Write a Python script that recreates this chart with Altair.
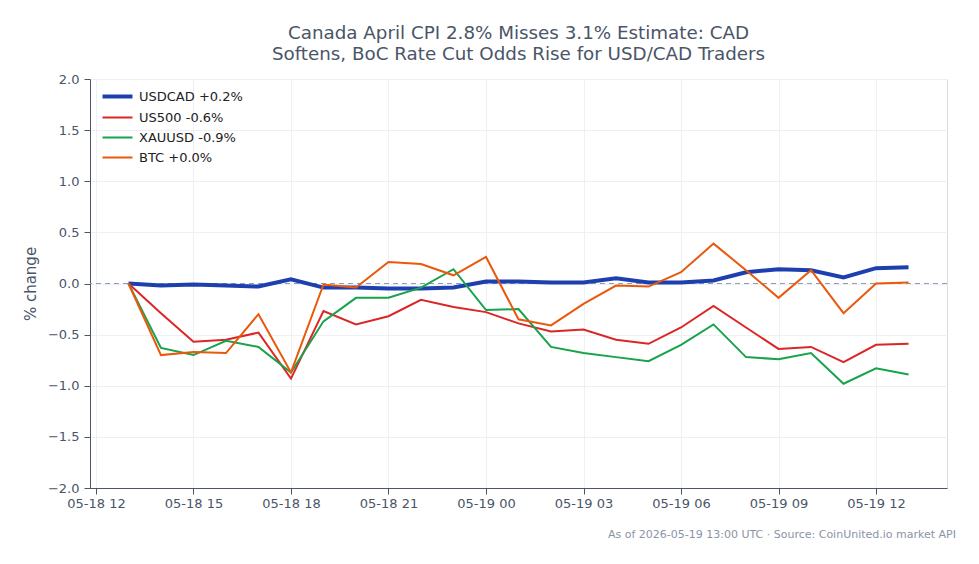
import altair as alt
import pandas as pd

times = [
    "2026-05-18T13:00:00Z", "2026-05-18T14:00:00Z", "2026-05-18T15:00:00Z",
    "2026-05-18T16:00:00Z", "2026-05-18T17:00:00Z", "2026-05-18T18:00:00Z",
    "2026-05-18T19:00:00Z", "2026-05-18T20:00:00Z", "2026-05-18T21:00:00Z",
    "2026-05-18T22:00:00Z", "2026-05-18T23:00:00Z", "2026-05-19T00:00:00Z",
    "2026-05-19T01:00:00Z", "2026-05-19T02:00:00Z", "2026-05-19T03:00:00Z",
    "2026-05-19T04:00:00Z", "2026-05-19T05:00:00Z", "2026-05-19T06:00:00Z",
    "2026-05-19T07:00:00Z", "2026-05-19T08:00:00Z", "2026-05-19T09:00:00Z",
    "2026-05-19T10:00:00Z", "2026-05-19T11:00:00Z", "2026-05-19T12:00:00Z",
    "2026-05-19T13:00:00Z",
]
usdcad = [0.00, -0.02, -0.01, -0.02, -0.03, 0.04, -0.04, -0.04, -0.05, -0.05, -0.04, 0.02,
          0.02, 0.01, 0.01, 0.05, 0.01, 0.01, 0.03, 0.11, 0.14, 0.13, 0.06, 0.15, 0.16]
us500 = [0.00, -0.29, -0.57, -0.55, -0.48, -0.93, -0.27, -0.40, -0.32, -0.16, -0.23, -0.28,
         -0.39, -0.47, -0.45, -0.55, -0.59, -0.43, -0.22, -0.43, -0.64, -0.62, -0.77, -0.60, -0.59]
xauusd = [0.00, -0.63, -0.70, -0.56, -0.62, -0.87, -0.37, -0.14, -0.14, -0.04, 0.14, -0.26,
          -0.25, -0.62, -0.68, -0.72, -0.76, -0.60, -0.40, -0.72, -0.74, -0.68, -0.98, -0.83, -0.89]
btc = [0.00, -0.70, -0.67, -0.68, -0.30, -0.87, -0.01, -0.04, 0.21, 0.19, 0.08, 0.26,
       -0.35, -0.41, -0.20, -0.02, -0.03, 0.11, 0.39, 0.13, -0.14, 0.13, -0.29, 0.00, 0.01]

series_names = ["USDCAD +0.2%", "US500 -0.6%", "XAUUSD -0.9%", "BTC +0.0%"]
series_values = [usdcad, us500, xauusd, btc]
colors = ["#1e40af", "#dc2626", "#16a34a", "#ea580c"]
widths = [4, 2, 2, 2]

y_ticks = [-2.0, -1.5, -1.0, -0.5, 0.0, 0.5, 1.0, 1.5, 2.0]
x_ticks = ["2026-05-18T12:00:00Z", "2026-05-18T15:00:00Z", "2026-05-18T18:00:00Z",
           "2026-05-18T21:00:00Z", "2026-05-19T00:00:00Z", "2026-05-19T03:00:00Z",
           "2026-05-19T06:00:00Z", "2026-05-19T09:00:00Z", "2026-05-19T12:00:00Z"]
x_domain = ["2026-05-18T11:49:00Z", "2026-05-19T14:11:00Z"]
title_lines = ["Canada April CPI 2.8% Misses 3.1% Estimate: CAD",
               "Softens, BoC Rate Cut Odds Rise for USD/CAD Traders"]
footer = "As of 2026-05-19 13:00 UTC \u00b7 Source: CoinUnited.io market API"


def ms(s):
    return int(pd.Timestamp(s).value // 10**6)


rows = []
for name, vals in zip(series_names, series_values):
    for t, v in zip(times, vals):
        rows.append({"time": t, "series": name, "value": v})
df = pd.DataFrame(rows)

FONT = "DejaVu Sans"
AX = "#4a5568"

x_enc = alt.X(
    "time:T",
    scale=alt.Scale(type="utc", domain=[ms(d) for d in x_domain]),
    axis=alt.Axis(values=[ms(t) for t in x_ticks],
                  labelExpr="utcFormat(datum.value, '%m-%d %H')",
                  title=None, labelFontSize=13, labelColor=AX, labelFont=FONT,
                  tickSize=6, tickColor=AX, domainColor=AX, gridColor="#eef0f4",
                  labelPadding=3, labelFlush=False, labelOverlap=False),
)
y_enc = alt.Y(
    "value:Q",
    scale=alt.Scale(domain=[-2, 2], nice=False, zero=False),
    axis=alt.Axis(values=y_ticks, format=".1f", title="% change", titleFontSize=15,
                  titleColor=AX, titleFont=FONT, titleFontWeight="normal", titlePadding=9,
                  labelFontSize=13, labelColor=AX, labelFont=FONT, tickSize=6, tickColor=AX,
                  domainColor=AX, gridColor="#eef0f4", labelPadding=5),
)

legend = alt.Legend(
    title=None, orient="none", legendX=18, legendY=8, symbolType="M-2,0H2",
    symbolSize=225, labelFontSize=13, labelFont=FONT, labelColor="#222222",
    rowPadding=4, labelOffset=12,
)

lines = alt.Chart(df).mark_line().encode(
    x=x_enc,
    y=y_enc,
    color=alt.Color("series:N", scale=alt.Scale(domain=series_names, range=colors),
                    sort=series_names, legend=legend),
    strokeWidth=alt.StrokeWidth("series:N",
                                scale=alt.Scale(type="ordinal", domain=series_names, range=widths),
                                sort=series_names, legend=legend),
)

zero = alt.Chart(pd.DataFrame({"y": [0.0]})).mark_rule(
    color="#8c9cb8", strokeDash=[5, 4], strokeWidth=1
).encode(y="y:Q")

foot = alt.Chart(pd.DataFrame({"t": [footer]})).mark_text(
    align="right", baseline="middle", fontSize=11, font=FONT, color="#8a94a6"
).encode(text="t:N", x=alt.value(866), y=alt.value(456))

chart = alt.layer(zero, lines, foot).properties(
    width=857, height=409,
    title=alt.TitleParams(text=title_lines, fontSize=18.3, font=FONT, color=AX,
                          fontWeight="normal", anchor="middle", offset=9, lineHeight=21),
    autosize=alt.AutoSizeParams(type="none"),
    padding={"left": 90, "top": 79, "right": 32, "bottom": 76},
).configure_view(stroke=None).configure(background="white")

chart.save("out.html", embed_options={"renderer": "svg", "actions": False})
